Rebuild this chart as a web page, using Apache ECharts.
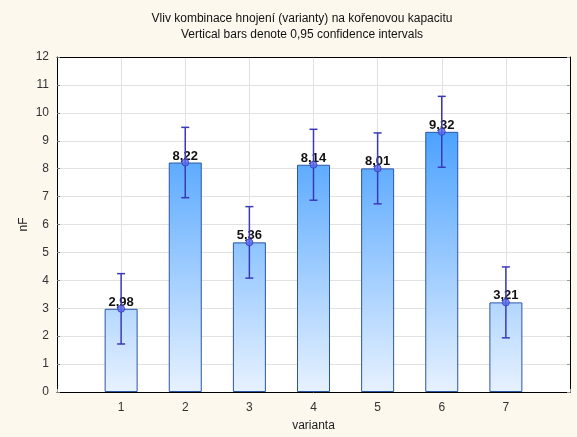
<!DOCTYPE html>
<html>
<head>
<meta charset="utf-8">
<script src="https://cdn.jsdelivr.net/npm/echarts@6/dist/echarts.min.js"></script>
<style>
html,body{margin:0;padding:0;background:#fdf8ed;}
#c{width:577px;height:437px;}
</style>
</head>
<body>
<div id="c"></div>
<script>
var categories = ['1','2','3','4','5','6','7'];
var means = [2.98, 8.22, 5.36, 8.14, 8.01, 9.32, 3.21];
var lower = [1.72, 6.96, 4.08, 6.87, 6.74, 8.05, 1.94];
var upper = [4.24, 9.48, 6.64, 9.41, 9.28, 10.59, 4.48];
var yTicks = [0,1,2,3,4,5,6,7,8,9,10,11,12];

var chart = echarts.init(document.getElementById('c'));
var font = 'Liberation Sans, Arial, sans-serif';
var gridTop = 57, gridBottom = 40;

var barData = means.map(function(v,i){ return [i+1, v]; });
var errData = means.map(function(v,i){ return [i+1, lower[i], upper[i]]; });

var option = {
  backgroundColor: '#fdf8ed',
  animation: false,
  title: {
    text: 'Vliv kombinace hnojení (varianty) na kořenovou kapacitu\nVertical bars denote 0,95 confidence intervals',
    left: 297, top: 6, textAlign: 'center',
    textStyle: {fontFamily: font, fontSize: 12, fontWeight: 'normal', color: '#111', lineHeight: 16}
  },
  grid: {left: 57, right: 7, top: gridTop, bottom: gridBottom, backgroundColor: '#ffffff', show: true, borderWidth: 0},
  xAxis: [{
    type: 'value', min: 0, max: 8, interval: 1,
    name: 'varianta', nameLocation: 'middle', nameGap: 28, nameMoveOverlap: false,
    nameTextStyle: {fontFamily: font, fontSize: 12, color: '#222'},
    axisLine: {show: true, lineStyle: {color: '#000', width: 1}},
    axisTick: {show: true, inside: true, length: 3, lineStyle: {color: '#999'}},
    axisLabel: {fontFamily: font, fontSize: 12, color: '#333', margin: 10,
      formatter: function(v){ return (v >= 1 && v <= categories.length) ? categories[v-1] : ''; }},
    splitLine: {show: true, lineStyle: {color: '#e2e2e2', width: 1}}
  },{
    type: 'value', min: 0, max: 8, position: 'top',
    axisLine: {show: true, onZero: false, lineStyle: {color: '#000', width: 1}},
    axisTick: {show: false}, axisLabel: {show: false}, splitLine: {show: false}
  }],
  yAxis: [{
    type: 'value', min: 0, max: 12, interval: 1,
    name: 'nF', nameLocation: 'middle', nameGap: 27, nameRotate: 90, nameMoveOverlap: false,
    nameTextStyle: {fontFamily: font, fontSize: 12, color: '#222'},
    axisLine: {show: true, lineStyle: {color: '#000', width: 1}},
    axisTick: {show: true, inside: true, length: 3, lineStyle: {color: '#777'}},
    axisLabel: {fontFamily: font, fontSize: 12, color: '#333', margin: 8,
      formatter: function(v){ return yTicks.indexOf(v) >= 0 ? String(v) : ''; }},
    splitLine: {show: true, lineStyle: {color: '#e2e2e2', width: 1}}
  },{
    type: 'value', min: 0, max: 12, interval: 1, position: 'right',
    axisLine: {show: true, onZero: false, lineStyle: {color: '#000', width: 1}},
    axisTick: {show: true, inside: true, length: 3, lineStyle: {color: '#999'}},
    axisLabel: {show: false}, splitLine: {show: false}
  }],
  series: [{
    type: 'bar', xAxisIndex: 0, yAxisIndex: 0,
    data: barData, barWidth: 33, z: 2,
    itemStyle: {
      color: new echarts.graphic.LinearGradient(0, gridTop, 0, 437 - gridBottom, [
        {offset: 0, color: '#1f8bff'},
        {offset: 1, color: '#eaf3ff'}
      ], true),
      borderColor: '#2b55a8', borderWidth: 1
    },
    label: {
      show: true, position: 'top', distance: 0,
      fontFamily: font, fontSize: 13, fontWeight: 'bold', color: '#111',
      formatter: function(p){ return p.value[1].toFixed(2).replace('.', ','); }
    }
  },{
    type: 'custom', xAxisIndex: 0, yAxisIndex: 0, z: 10,
    data: errData,
    renderItem: function(params, api){
      var x = api.value(0);
      var lo = api.coord([x, api.value(1)]);
      var hi = api.coord([x, api.value(2)]);
      var hw = 4;
      var st = {stroke: '#3a3ab8', lineWidth: 1.5};
      return {type: 'group', children: [
        {type: 'line', shape: {x1: lo[0], y1: lo[1], x2: hi[0], y2: hi[1]}, style: st},
        {type: 'line', shape: {x1: hi[0]-hw, y1: hi[1], x2: hi[0]+hw, y2: hi[1]}, style: st},
        {type: 'line', shape: {x1: lo[0]-hw, y1: lo[1], x2: lo[0]+hw, y2: lo[1]}, style: st}
      ]};
    }
  },{
    type: 'scatter', xAxisIndex: 0, yAxisIndex: 0, z: 11,
    data: barData, symbol: 'circle', symbolSize: 7,
    itemStyle: {color: '#5a6cf0', borderColor: '#3a3ab8', borderWidth: 1}
  }]
};
chart.setOption(option);
</script>
</body>
</html>
